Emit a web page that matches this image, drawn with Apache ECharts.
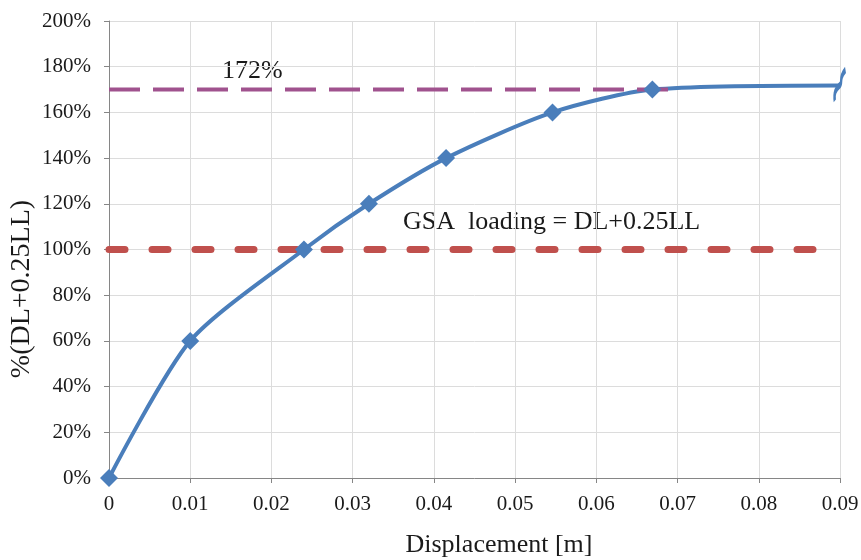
<!DOCTYPE html>
<html>
<head>
<meta charset="utf-8">
<script src="https://cdn.jsdelivr.net/npm/echarts@6/dist/echarts.min.js"></script>
<style>
  html, body { margin: 0; padding: 0; background: #fff; }
  #chart { width: 861px; height: 560px; }
</style>
</head>
<body>
<div id="chart"></div>
<script>
  // curve: displacement [m] vs %(DL+0.25LL)
  var dispValues = [0, 0.01, 0.024, 0.032, 0.0415, 0.0546, 0.0669, 0.09];
  var loadValues = [0, 60, 100, 120, 140, 160, 170, 171.8];
  var markedCount = 7; // last point is the open end, no marker
  // reference lines
  var peakLine = [[0, 170], [0.0703, 170]];
  var gsaLine = [[0, 100], [0.09, 100]];
  var peakText = '172%';
  var gsaText = 'GSA  loading = DL+0.25LL';
  var xTitle = 'Displacement [m]';
  var yTitle = '%(DL+0.25LL)';

  var serif = '"Liberation Serif", "DejaVu Serif", serif';
  var blue = '#4a7ebb';

  var curveData = dispValues.map(function (x, i) {
    var item = { value: [x, loadValues[i]] };
    if (i === dispValues.length - 1) {
      /* break mark at the open end */
      item.symbol = 'path://M10,0 C4,9 8,13 5,16 C2,19 0,24 1,32';
      item.symbolSize = [11, 31];
      item.itemStyle = { color: 'none', borderColor: blue, borderWidth: 4 };
    } else {
      item.symbol = 'none';
    }
    return item;
  });
  var markerData = dispValues.slice(0, markedCount).map(function (x, i) {
    return [x, loadValues[i]];
  });

  var chart = echarts.init(document.getElementById('chart'));
  var option = {
    animation: false,
    grid: { left: 109, right: 21, top: 21, bottom: 82, outerBoundsMode: 'none', containLabel: false },
    xAxis: {
      type: 'value',
      min: 0, max: 0.09, interval: 0.01,
      axisLine: { lineStyle: { color: '#868686', width: 1 } },
      axisTick: { show: true, length: 5, lineStyle: { color: '#868686' } },
      axisLabel: {
        fontFamily: serif, fontSize: 21, color: '#1a1a1a', margin: 16,
        formatter: function (v) { return String(+v.toFixed(2)); }
      },
      splitLine: { show: true, lineStyle: { color: '#dcdcdc' } }
    },
    yAxis: {
      type: 'value',
      min: 0, max: 200, interval: 20,
      axisLine: { show: true, lineStyle: { color: '#868686', width: 1 } },
      axisTick: { show: true, length: 5, lineStyle: { color: '#868686' } },
      axisLabel: { fontFamily: serif, fontSize: 21, color: '#1a1a1a', margin: 18, formatter: '{value}%' },
      splitLine: { show: true, lineStyle: { color: '#dcdcdc' } }
    },
    series: [
      {
        type: 'line',
        data: gsaLine,
        symbol: 'none',
        z: 2,
        lineStyle: { color: '#c0504d', width: 7, type: [16, 27], cap: 'round' }
      },
      {
        type: 'line',
        data: curveData,
        smooth: 0.25,
        z: 3,
        lineStyle: { color: blue, width: 4 }
      },
      {
        type: 'line',
        data: peakLine,
        symbol: 'none',
        z: 4,
        lineStyle: { color: '#a0528e', width: 4, type: [31, 13] }
      },
      {
        type: 'scatter',
        data: markerData,
        symbol: 'diamond',
        symbolSize: 18,
        z: 5,
        itemStyle: { color: blue, opacity: 1 }
      }
    ],
    graphic: [
      {
        type: 'text', left: 222, top: 58,
        style: { text: peakText, font: '26px ' + serif, fill: '#1a1a1a' }
      },
      {
        type: 'text', left: 403, top: 209,
        style: { text: gsaText, font: '26px ' + serif, fill: '#1a1a1a' }
      },
      {
        type: 'text', x: 499, y: 545,
        style: { text: xTitle, font: '26px ' + serif, fill: '#1a1a1a', align: 'center', verticalAlign: 'middle' }
      },
      {
        type: 'text', x: 22, y: 289, rotation: Math.PI / 2,
        style: { text: yTitle, font: '28px ' + serif, fill: '#1a1a1a', align: 'center', verticalAlign: 'middle' }
      }
    ]
  };
  chart.setOption(option);
</script>
</body>
</html>
